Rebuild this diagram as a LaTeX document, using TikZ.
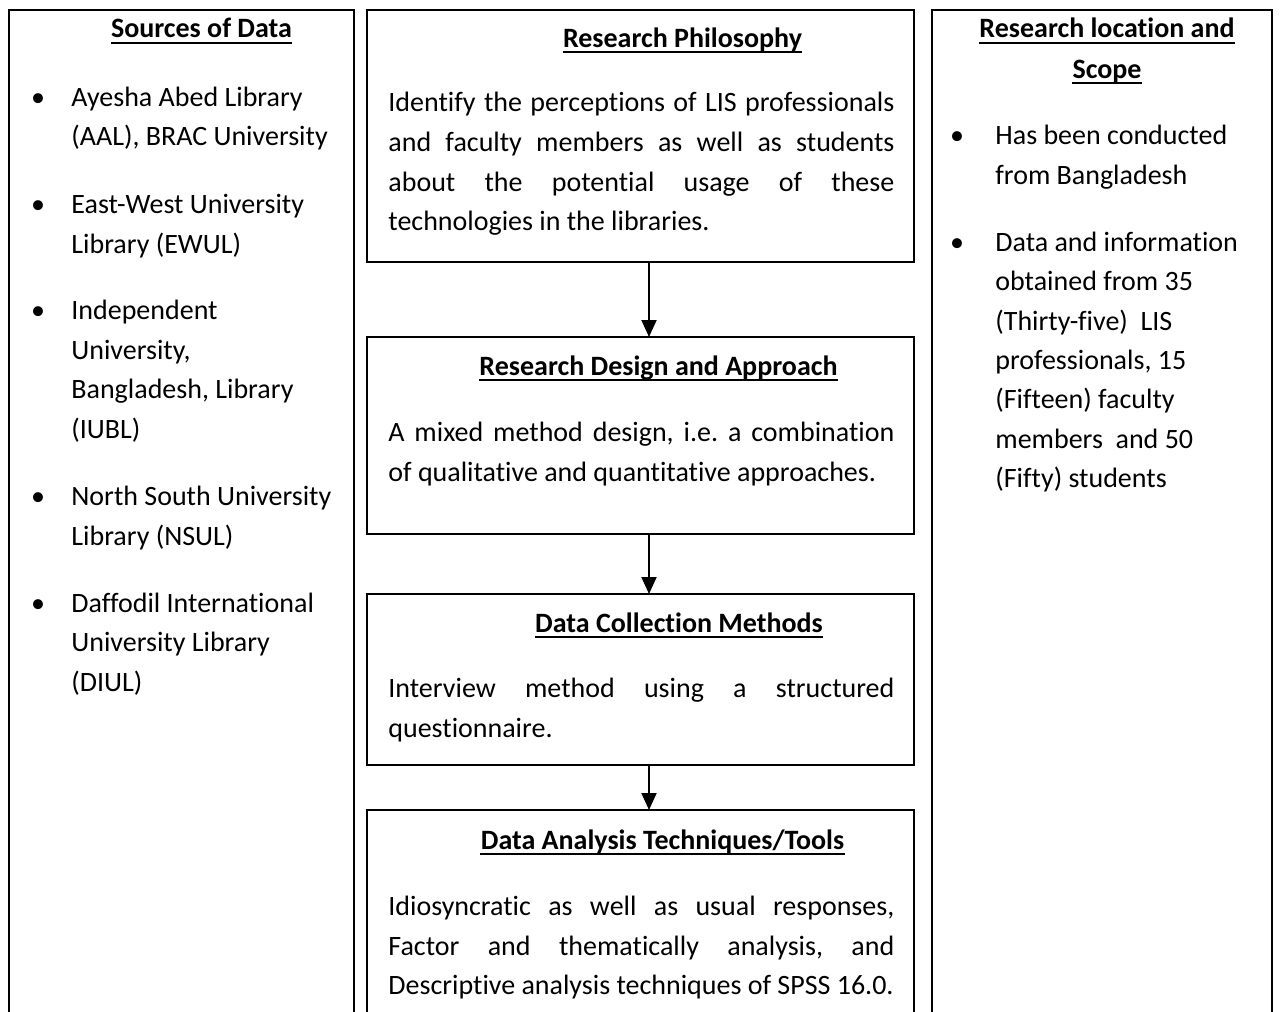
\documentclass[tikz,border=0pt]{standalone}
\usepackage{fontspec}
\setmainfont{Carlito}[Ligatures={NoCommon}]
\frenchspacing
\usetikzlibrary{arrows.meta}
\begin{document}
\begin{tikzpicture}[x=0.5pt,y=-0.5pt,
 box/.style={draw, line width=1.1pt, rectangle, inner sep=0, outer sep=0},
 txt/.style={anchor=base west, inner sep=0, font=\fontsize{14pt}{19.75pt}\selectfont},
 head/.style={anchor=base, inner sep=0, font=\fontsize{14pt}{19.75pt}\selectfont\bfseries},
 bul/.style={anchor=base, inner sep=0, font=\fontsize{14pt}{19.75pt}\selectfont},
 uline/.style={line width=1pt},
 flow/.style={line width=1pt, -{Triangle[width=7.5pt,length=8.5pt]}}
]
\useasboundingbox (0,0) rectangle (1282,1012);

% frames
\node[box, minimum width=172.5pt, minimum height=510pt] (L) at (181.5,520) {};
\node[box, minimum width=170pt, minimum height=510pt] (R) at (1102,520) {};
\node[box, minimum width=273.5pt, minimum height=126pt] (B1) at (640.5,136) {};
\node[box, minimum width=273.5pt, minimum height=98.5pt] (B2) at (640.5,435.5) {};
\node[box, minimum width=273.5pt, minimum height=85.5pt] (B3) at (640.5,679.5) {};
\node[box, minimum width=273.5pt, minimum height=110pt] (B4) at (640.5,920) {};

% arrows
\coordinate (ax) at (649,0);
\draw[flow] (B1.south -| ax) -- (B2.north -| ax);
\draw[flow] (B2.south -| ax) -- (B3.north -| ax);
\draw[flow] (B3.south -| ax) -- (B4.north -| ax);

% left column
\node[head] (hL) at (201.5,38) {Sources of Data};
\draw[uline] ([yshift=-2.5pt]hL.base west) -- ([yshift=-2.5pt]hL.base east);
\node[bul] (bl1) at (38,106) {•};
\node[txt] (l1) at (71,106) {Ayesha Abed Library};
\node[txt] (l2) at (71,145) {(AAL), BRAC University};
\node[bul] (bl2) at (38,213) {•};
\node[txt] (l3) at (71,213) {East-West University};
\node[txt] (l4) at (71,253) {Library (EWUL)};
\node[bul] (bl3) at (38,319) {•};
\node[txt] (l5) at (71,319) {Independent};
\node[txt] (l6) at (71,359) {University,};
\node[txt] (l7) at (71,398) {Bangladesh, Library};
\node[txt] (l8) at (71,438) {(IUBL)};
\node[bul] (bl4) at (38,505) {•};
\node[txt] (l9) at (71,505) {North South University};
\node[txt] (l10) at (71,545) {Library (NSUL)};
\node[bul] (bl5) at (38,612) {•};
\node[txt] (l11) at (71,612) {Daffodil International};
\node[txt] (l12) at (71,651) {University Library};
\node[txt] (l13) at (71,691) {(DIUL)};

% middle box 1
\node[head] (h1) at (682.5,47) {Research Philosophy};
\draw[uline] ([yshift=-2.5pt]h1.base west) -- ([yshift=-2.5pt]h1.base east);
\node[txt] (p1a) at (388,112) {\makebox[253pt][s]{Identify the perceptions of LIS professionals}};
\node[txt] (p1b) at (388,151) {\makebox[253pt][s]{and faculty members as well as students}};
\node[txt] (p1c) at (388,191) {\makebox[253pt][s]{about the potential usage of these}};
\node[txt] (p1d) at (388,230) {technologies in the libraries.};

% middle box 2
\node[head] (h2) at (658.5,375) {Research Design and Approach};
\draw[uline] ([yshift=-2.5pt]h2.base west) -- ([yshift=-2.5pt]h2.base east);
\node[txt] (p2a) at (388,441) {\makebox[253pt][s]{A mixed method design, i.e. a combination}};
\node[txt] (p2b) at (388,481) {of qualitative and quantitative approaches.};

% middle box 3
\node[head] (h3) at (679,632) {Data Collection Methods};
\draw[uline] ([yshift=-2.5pt]h3.base west) -- ([yshift=-2.5pt]h3.base east);
\node[txt] (p3a) at (388,697) {\makebox[253pt][s]{Interview method using a structured}};
\node[txt] (p3b) at (388,737) {questionnaire.};

% middle box 4
\node[head] (h4) at (662.5,849) {Data Analysis Techniques/Tools};
\draw[uline] ([yshift=-2.5pt]h4.base west) -- ([yshift=-2.5pt]h4.base east);
\node[txt] (p4a) at (388,915) {\makebox[253pt][s]{Idiosyncratic as well as usual responses,}};
\node[txt] (p4b) at (388,955) {\makebox[253pt][s]{Factor and thematically analysis, and}};
\node[txt] (p4c) at (388,994) {Descriptive analysis techniques of SPSS 16.0.};

% right column
\node[head] (hR1) at (1107,38) {Research location and};
\draw[uline] ([yshift=-2.5pt]hR1.base west) -- ([yshift=-2.5pt]hR1.base east);
\node[head] (hR2) at (1107,78) {Scope};
\draw[uline] ([yshift=-2.5pt]hR2.base west) -- ([yshift=-2.5pt]hR2.base east);
\node[bul] (br1) at (957,144) {•};
\node[txt] (r1) at (995,144) {Has been conducted};
\node[txt] (r2) at (995,184) {from Bangladesh};
\node[bul] (br2) at (957,251) {•};
\node[txt] (r3) at (995,251) {Data and information};
\node[txt] (r4) at (995,290) {obtained from 35};
\node[txt] (r5) at (995,330) {(Thirty-five)\ \ LIS};
\node[txt] (r6) at (995,369) {professionals, 15};
\node[txt] (r7) at (995,408) {(Fifteen) faculty};
\node[txt] (r8) at (995,448) {members\ \ and 50};
\node[txt] (r9) at (995,487) {(Fifty) students};
\end{tikzpicture}
\end{document}
